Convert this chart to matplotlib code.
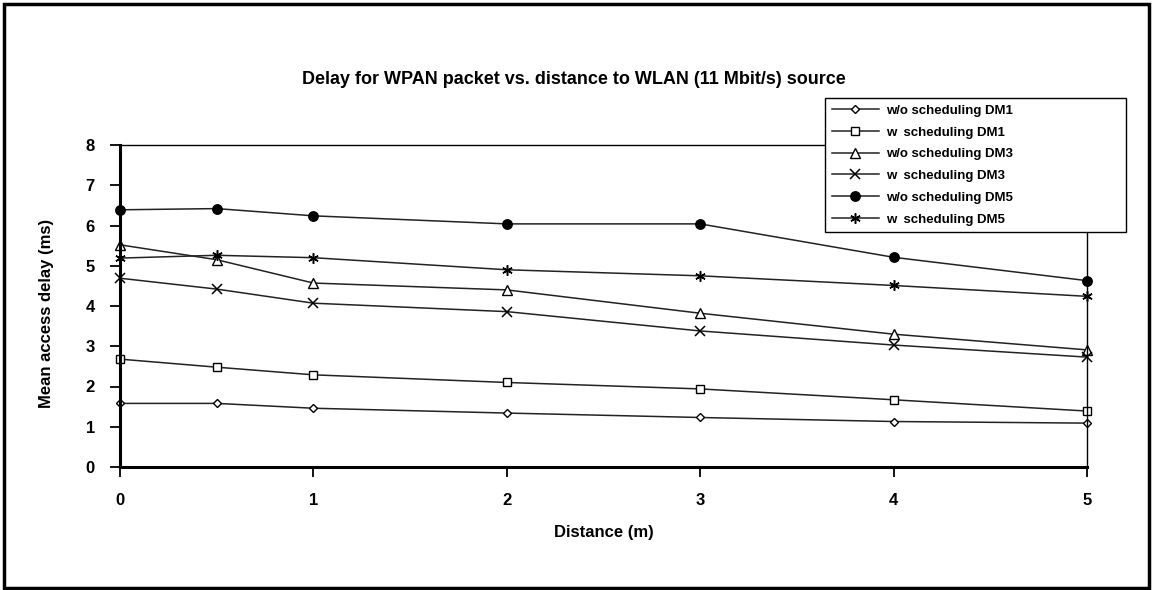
import numpy as np
import matplotlib
matplotlib.use('Agg')
import matplotlib.pyplot as plt
from matplotlib.patches import Rectangle

plt.rcParams['font.family'] = ['Liberation Sans', 'DejaVu Sans']
plt.rcParams['font.weight'] = 'bold'

# data
distance = [0, 0.5, 1, 2, 3, 4, 5]
wo_dm1 = [1.58, 1.58, 1.46, 1.34, 1.23, 1.13, 1.09]
w_dm1 = [2.68, 2.48, 2.29, 2.10, 1.94, 1.67, 1.39]
wo_dm3 = [5.52, 5.15, 4.57, 4.40, 3.82, 3.30, 2.91]
w_dm3 = [4.69, 4.42, 4.07, 3.86, 3.38, 3.03, 2.73]
wo_dm5 = [6.39, 6.42, 6.24, 6.04, 6.04, 5.21, 4.63]
w_dm5 = [5.19, 5.26, 5.20, 4.90, 4.75, 4.51, 4.24]

labels = ['w/o scheduling DM1', 'w  scheduling DM1', 'w/o scheduling DM3',
          'w  scheduling DM3', 'w/o scheduling DM5', 'w  scheduling DM5']
xticks = [0, 1, 2, 3, 4, 5]
yticks = [0, 1, 2, 3, 4, 5, 6, 7, 8]

title = 'Delay for WPAN packet vs. distance to WLAN (11 Mbit/s) source'

# %% figure
fig = plt.figure(figsize=(11.53, 5.90), dpi=100)
ax = fig.add_axes([120/1153, 1-467/590, 967/1153, 322/590])

styles = [
    dict(marker='D', ms=4.5, mfc='white'),
    dict(marker='s', ms=6, mfc='white'),
    dict(marker='^', ms=7, mfc='white'),
    dict(marker='x', ms=7, mew=1.1),
    dict(marker='o', ms=6.8, mfc='black'),
    dict(marker=(6, 2, 0), ms=7.5, mew=1.1),
]
series = [wo_dm1, w_dm1, wo_dm3, w_dm3, wo_dm5, w_dm5]
for y, lab, st in zip(series, labels, styles):
    ax.plot(distance, y, color='#222222', lw=1.1, mec='black', label=lab,
            clip_on=False, **st)

ax.set_xlim(0, 5)
ax.set_ylim(0, 8)
ax.set_xticks(xticks)
ax.set_yticks(yticks)
ax.tick_params(axis='both', direction='out', labelsize=12, width=1.3, color='black')
ax.tick_params(axis='x', length=7, pad=12)
ax.tick_params(axis='y', length=7, pad=11)

for side in ['left', 'bottom']:
    ax.spines[side].set_linewidth(2.2)
for side in ['top', 'right']:
    ax.spines[side].set_linewidth(1.0)

ax.set_xlabel('Distance (m)', fontsize=12, fontweight='bold')
ax.xaxis.set_label_coords(0.5, -0.202)
ax.xaxis.label.set_verticalalignment('center')
ax.set_ylabel('Mean access delay (ms)', fontsize=12, fontweight='bold')
ax.yaxis.set_label_coords(-0.0755, 0.478)
ax.yaxis.label.set_verticalalignment('center')

fig.text(574/1153, 1-80/590, title, ha='center', va='center',
         fontsize=13, fontweight='bold')

leg = ax.legend(loc='upper left', bbox_to_anchor=(825/1153, 1-98/590, 301/1153, 0.0),
                bbox_transform=fig.transFigure, mode='expand', borderaxespad=0,
                fontsize=9.5, frameon=True, fancybox=False, handlelength=3.6,
                handletextpad=0.5, labelspacing=0.72, borderpad=0.5)
leg.get_frame().set_edgecolor('black')
leg.get_frame().set_linewidth(1.0)
leg.get_frame().set_alpha(1)
for t in leg.get_texts():
    t.set_fontweight('bold')

fig.patches.append(Rectangle((4/1153, 2/590), 1145/1153, 584/590,
                             transform=fig.transFigure, fill=False,
                             lw=2.5, edgecolor='black'))

fig.savefig('out.png', dpi=100)
